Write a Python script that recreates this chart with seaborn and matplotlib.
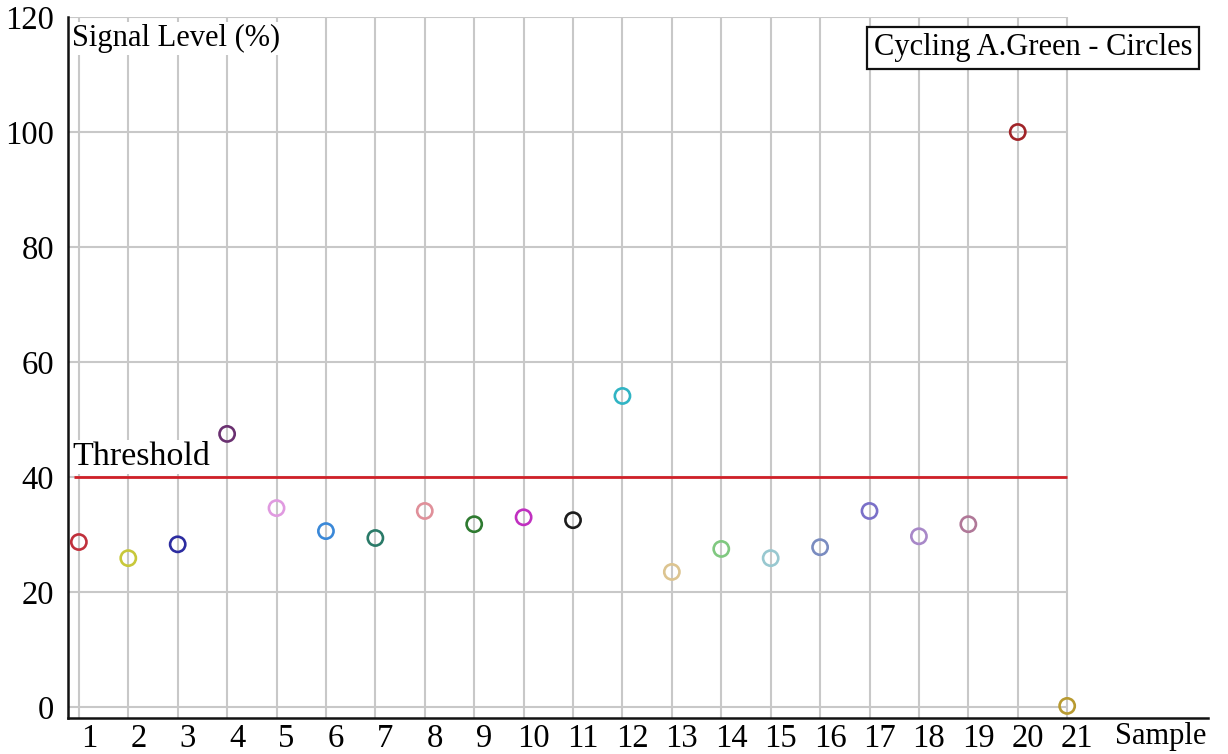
import matplotlib
matplotlib.use("Agg")
import matplotlib.pyplot as plt
import matplotlib.transforms as mtransforms
import seaborn as sns
import pandas as pd

# ---- data ----
samples = list(range(1, 22))
signal_level = [28.7, 25.9, 28.3, 47.5, 34.6, 30.6, 29.4, 34.1, 31.8, 33.0, 32.5,
                54.1, 23.5, 27.5, 25.9, 27.8, 34.1, 29.7, 31.8, 100.0, 0.2]
sample_colors = ["#c0303c", "#c8c83a", "#2c2ca0", "#6a3070", "#e09ae0", "#3a88d8",
                 "#2a7a68", "#e0909a", "#2e7a30", "#c030c0", "#1c1c1c", "#30b4c4",
                 "#dcc490", "#80c880", "#98c8d0", "#7a8cc0", "#7a70c8", "#a888c8",
                 "#b07898", "#a02428", "#b89a30"]
y_ticks = [0, 20, 40, 60, 80, 100, 120]
threshold = 40
legend_text = "Cycling A.Green - Circles"

sns.set_style("white")
plt.rcParams["font.family"] = ["Liberation Serif", "DejaVu Serif"]
plt.rcParams["text.color"] = "black"
plt.rcParams["xtick.color"] = "black"
plt.rcParams["ytick.color"] = "black"
FS = 22
TICK_FS = 23.5

fig = plt.figure(figsize=(12.28, 7.54), dpi=100)
ax = fig.add_axes([68 / 1228, 1 - 718 / 754, (1208 - 68) / 1228, (718 - 17) / 754])

x_left, x_grid_right, x_right = 0.78, 21, 23.85
y_bottom, y_top = -1.9, 120

grid_c = "#c8c8c8"
ax.hlines(y_ticks, x_left, x_grid_right, color=grid_c, lw=1.5, zorder=1)
ax.vlines(samples, y_bottom, y_top, color=grid_c, lw=1.5, zorder=1)

ax.hlines(threshold, 0.9, x_grid_right, color="#d02028", lw=2.0, zorder=2)

df = pd.DataFrame({"Sample": samples, "Signal": signal_level})
sns.scatterplot(data=df, x="Sample", y="Signal", hue="Sample",
                palette=sample_colors, s=120, legend=False, ax=ax, zorder=3)
coll = ax.collections[-1]
fcs = coll.get_facecolors()
coll.set_edgecolors(fcs)
coll.set_facecolors("none")
coll.set_linewidths(1.9)

ax.set_xlim(x_left, x_right)
ax.set_ylim(y_bottom, y_top)

for s in ["top", "right"]:
    ax.spines[s].set_visible(False)
for s in ["left", "bottom"]:
    ax.spines[s].set_color("#111111")
    ax.spines[s].set_linewidth(1.8)

ax.set_xticks(samples)
ax.set_xticklabels([str(s) for s in samples], fontsize=TICK_FS)
ax.set_yticks(y_ticks)
ax.set_yticklabels([str(v) for v in y_ticks], fontsize=TICK_FS)
ax.tick_params(axis="x", length=0, pad=4)
ax.tick_params(axis="y", length=0, pad=10)
offset = mtransforms.ScaledTranslation(10 / 100, 0, fig.dpi_scale_trans)
for lab in ax.get_xticklabels():
    lab.set_transform(lab.get_transform() + offset)
ax.set_xlabel("")
ax.set_ylabel("")

ax.text(22.9, -0.026, "Sample", transform=ax.get_xaxis_transform(),
        ha="center", va="center", fontsize=FS)
ax.text(0.86, 118.8, "Signal Level (%)", ha="left", va="top", fontsize=FS,
        bbox=dict(boxstyle="square,pad=0.05", fc="white", ec="none"), zorder=4)
ax.text(0.86, 40.9, "Threshold", ha="left", va="bottom", fontsize=24.5,
        bbox=dict(boxstyle="square,pad=0.05", fc="white", ec="none"), zorder=4)
fig.text(1033 / 1228, 1 - 48 / 754, legend_text, ha="center", va="center", fontsize=FS,
         bbox=dict(boxstyle="square,pad=0.22", fc="white", ec="#111111", lw=1.6))

fig.savefig("out.png", dpi=100)
